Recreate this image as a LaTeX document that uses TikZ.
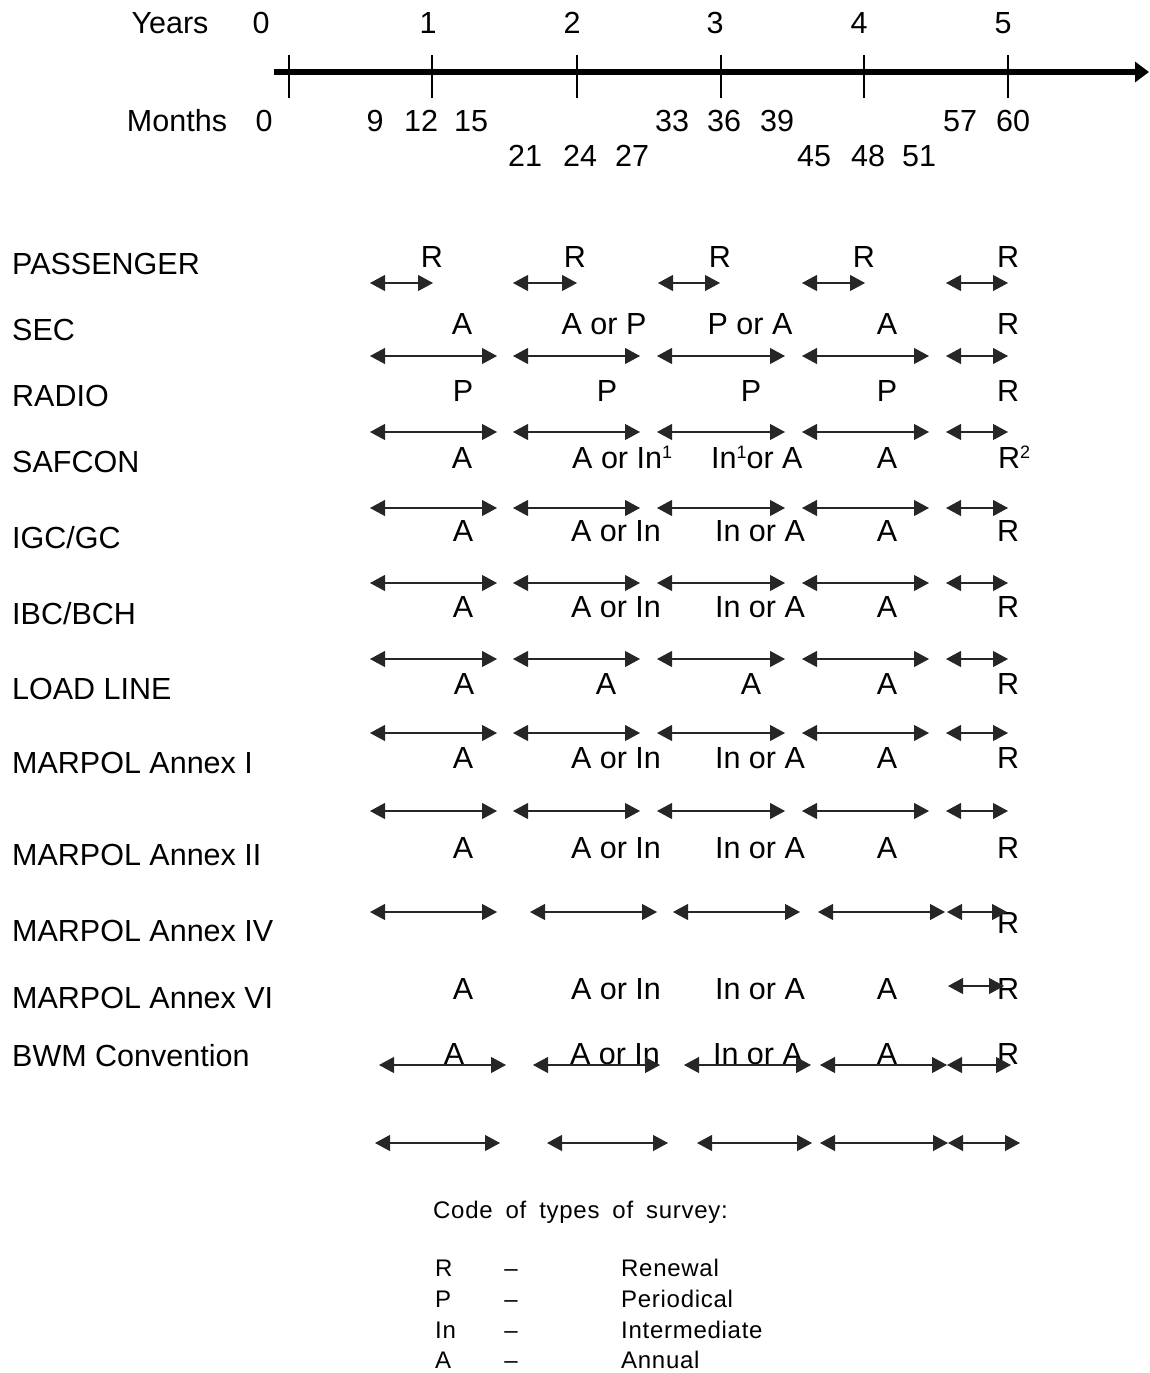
\documentclass[tikz,border=0pt]{standalone}
\usepackage{fontspec}
\setmainfont{Liberation Sans}
\newfontfamily\keyfont[LetterSpace=3]{Liberation Sans}
\newfontfamily\keyheadfont[LetterSpace=3, WordSpace=1.75]{Liberation Sans}
\usetikzlibrary{arrows.meta}
\newcommand\supnum[1]{\raisebox{10pt}{\fontsize{18}{20}\selectfont #1}}

\begin{document}
\begin{tikzpicture}[
        x=1pt, y=-1pt,
        every node/.style={font=\fontsize{30.5}{36}\selectfont, inner sep=0pt, text height=22pt, text depth=0pt},
        regime/.style={anchor=west},
        cyc/.style={{Triangle[length=15pt, width=16pt]}-{Triangle[length=15pt, width=16pt]}, line width=1.1pt, black!85},
        keytext/.style={font=\keyfont\fontsize{24}{28}\selectfont, text height=17pt, anchor=west},
    ]
    \useasboundingbox (0,0) rectangle (1149,1373);

    %% Time axis
    \draw[line width=5.5pt, -{Triangle[length=14pt, width=20pt]}] (274,72) -- (1149,72);
    \foreach \x in {289,432,577,721,864,1008} {
        \draw[line width=1.3pt] (\x,55) -- (\x,98);
    }
    \node (years) at (170,22) {Years};
    \foreach \x/\t in {261/0, 428/1, 572/2, 715/3, 859/4, 1003/5} {
        \node (yr\t) at (\x,22) {\t};
    }
    \node (months) at (177,120) {Months};
    \foreach \x/\t in {264/0, 375/9, 421/12, 471/15, 672/33, 724/36, 777/39, 960/57, 1013/60} {
        \node (mo\t) at (\x,120) {\t};
    }
    \foreach \x/\t in {525/21, 580/24, 632/27, 814/45, 868/48, 919/51} {
        \node (mo\t) at (\x,155) {\t};
    }

    %% Certificates
    \foreach \n/\y/\t in {pass/263/PASSENGER, sec/329/SEC, radio/395/RADIO, safcon/461/SAFCON,
        igc/537/{IGC/GC}, ibc/613/{IBC/BCH}, ll/688/LOAD LINE, mpi/762/MARPOL Annex I,
        mpii/854/MARPOL Annex II, mpiv/930/MARPOL Annex IV, mpvi/997/MARPOL Annex VI,
        bwm/1055/BWM Convention} {
        \node[regime] (\n) at (12,\y) {\t};
    }

    %% Survey codes per window
    \foreach \x [count=\i] in {432,575,720,864,1008} {
        \node (passR\i) at (\x,256) {R};
    }
    \foreach \x/\t [count=\i] in {462/A, 604/A or P, 750/P or A, 887/A, 1008/R} {
        \node (secS\i) at (\x,323) {\t};
    }
    \foreach \x/\t [count=\i] in {463/P, 607/P, 751/P, 887/P, 1008/R} {
        \node (radioS\i) at (\x,390) {\t};
    }
    \node (safconS1) at (462,457) {A};
    \node[anchor=west] (safconS2) at (572,457) {A or In\supnum{1}};
    \node[anchor=west] (safconS3) at (711,457) {In\supnum{1}or A};
    \node (safconS4) at (887,457) {A};
    \node[anchor=west] (safconS5) at (998,457) {R\supnum{2}};
    \foreach \y/\n in {530/igc, 606/ibc, 757/mpi, 847/mpii, 988/mpvi} {
        \foreach \x/\t [count=\i] in {463/A, 616/A or In, 760/In or A, 887/A, 1008/R} {
            \node (\n S\i) at (\x,\y) {\t};
        }
    }
    \foreach \x/\t [count=\i] in {464/A, 606/A, 751/A, 887/A, 1008/R} {
        \node (llS\i) at (\x,683) {\t};
    }
    \node (mpivS5) at (1008,922) {R};
    \foreach \x/\t [count=\i] in {454/A, 615/A or In, 758/In or A, 887/A, 1008/R} {
        \node (bwmS\i) at (\x,1053) {\t};
    }

    %% Survey windows
    \foreach \a/\b in {370/433, 513/577, 658/720, 802/865, 946/1008} {
        \draw[cyc] (\a,283) -- (\b,283);
    }
    \foreach \y in {356,432,508,583,659,733,811} {
        \foreach \a/\b in {370/497, 513/640, 657/785, 802/929, 946/1008} {
            \draw[cyc] (\a,\y) -- (\b,\y);
        }
    }
    \foreach \a/\b in {370/497, 530/657, 673/800, 818/945, 947/1007} {
        \draw[cyc] (\a,912) -- (\b,912);
    }
    \draw[cyc] (948,986) -- (1004,986);
    \foreach \a/\b in {379/506, 533/660, 684/811, 820/947, 947/1011} {
        \draw[cyc] (\a,1065) -- (\b,1065);
    }
    \foreach \a/\b in {375/500, 547/668, 697/812, 820/948, 948/1020} {
        \draw[cyc] (\a,1143) -- (\b,1143);
    }

    %% Key
    \node[keytext, font=\keyheadfont\fontsize{24}{28}\selectfont] (key) at (433,1210) {Code of types of survey:};
    \foreach \y/\c/\t [count=\i] in {1268/R/Renewal, 1299/P/Periodical, 1330/In/Intermediate, 1360/A/Annual} {
        \node[keytext] (kc\i) at (435,\y) {\c};
        \node[keytext, anchor=center] (kd\i) at (511,\y) {\textendash};
        \node[keytext] (kt\i) at (621,\y) {\t};
    }

\end{tikzpicture}
\end{document}
